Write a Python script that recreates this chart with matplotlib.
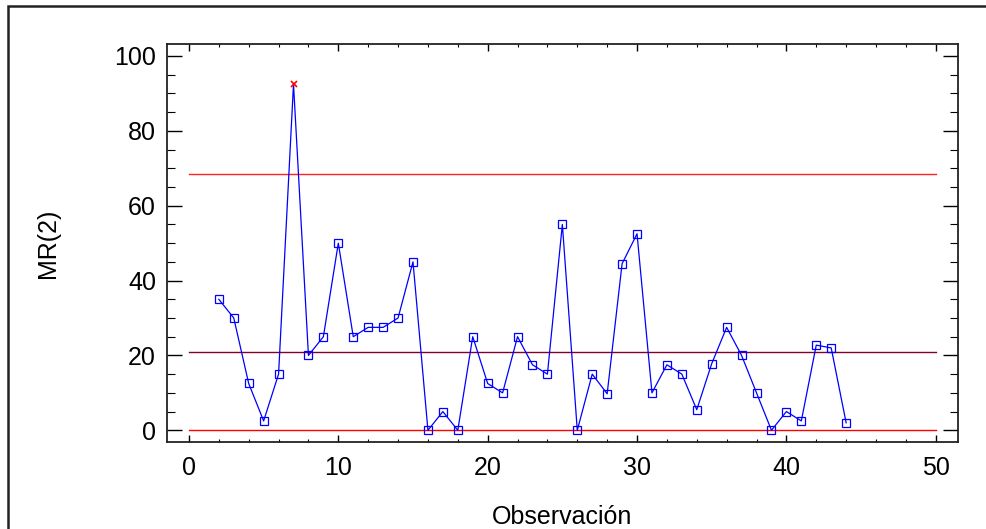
import numpy as np
import matplotlib.pyplot as plt
from matplotlib.patches import Rectangle
from matplotlib.ticker import MultipleLocator

plt.rcParams['font.family'] = ['Liberation Sans', 'DejaVu Sans']

# moving range MR(2) per observation
obs = list(range(2, 45))
mr = [35, 30, 12.5, 2.5, 15, 92.5, 20, 25, 50, 25,
      27.5, 27.5, 30, 45, 0, 5, 0, 25, 12.5, 10,
      25, 17.5, 15, 55, 0, 15, 9.75, 44.5, 52.5, 10,
      17.5, 15, 5.5, 17.8, 27.5, 20, 10, 0, 5, 2.5,
      22.75, 22, 2]
out_obs = [7]

# control limits
ucl = 68.6
cl = 21.0
lcl = 0.0
line_x = [0, 50]

fig = plt.figure(figsize=(9.87, 5.29), dpi=100)
ax = fig.add_axes([167/987, 1-441.7/529, (958-167)/987, (441.7-44)/529])

# outer frame
fig.patches.append(Rectangle((8/987, -0.1), 1.2, (1-6/529)+0.1,
                             transform=fig.transFigure, fill=False,
                             edgecolor='#222222', linewidth=1.8))

ax.plot(line_x, [ucl, ucl], color='#ff2020', lw=1.0)
ax.plot(line_x, [cl, cl], color='#800030', lw=1.0)
ax.plot(line_x, [lcl, lcl], color='#ff0000', lw=1.0)

xs = np.array(obs)
ys = np.array(mr)
ax.plot(xs, ys, color='#0000ff', lw=0.9)
normal = ~np.isin(xs, out_obs)
ax.plot(xs[normal], ys[normal], ls='none', marker='s', ms=5.5,
        mfc='none', mec='#0000ff', mew=0.9)
ax.plot(xs[~normal], ys[~normal], ls='none', marker='x', ms=5,
        color='#ff0000', mew=1.2)

ax.set_xlim(-1.47, 51.49)
ax.set_ylim(-3.05, 103.2)
ax.xaxis.set_major_locator(MultipleLocator(10))
ax.xaxis.set_minor_locator(MultipleLocator(2))
ax.yaxis.set_major_locator(MultipleLocator(20))
ax.yaxis.set_minor_locator(MultipleLocator(5))

ax.tick_params(axis='x', which='major', direction='in', length=5, width=1,
               top=True, bottom=True, labelsize=18, pad=10)
ax.tick_params(axis='x', which='minor', direction='in', length=2.5, width=0.8,
               top=True, bottom=True)
ax.tick_params(axis='y', which='major', direction='in', length=11, width=1,
               left=True, right=True, labelsize=18, pad=8)
ax.tick_params(axis='y', which='minor', direction='in', length=6, width=0.8,
               left=True, right=True)

for s in ax.spines.values():
    s.set_color('#222222')
    s.set_linewidth(1.3)

ax.set_xlabel('Observación', fontsize=18)
ax.set_ylabel('MR(2)', fontsize=18)
ax.xaxis.set_label_coords(0.5, -0.159)
ax.yaxis.set_label_coords(-0.135, 0.5)

fig.savefig('out.png', dpi=100)
